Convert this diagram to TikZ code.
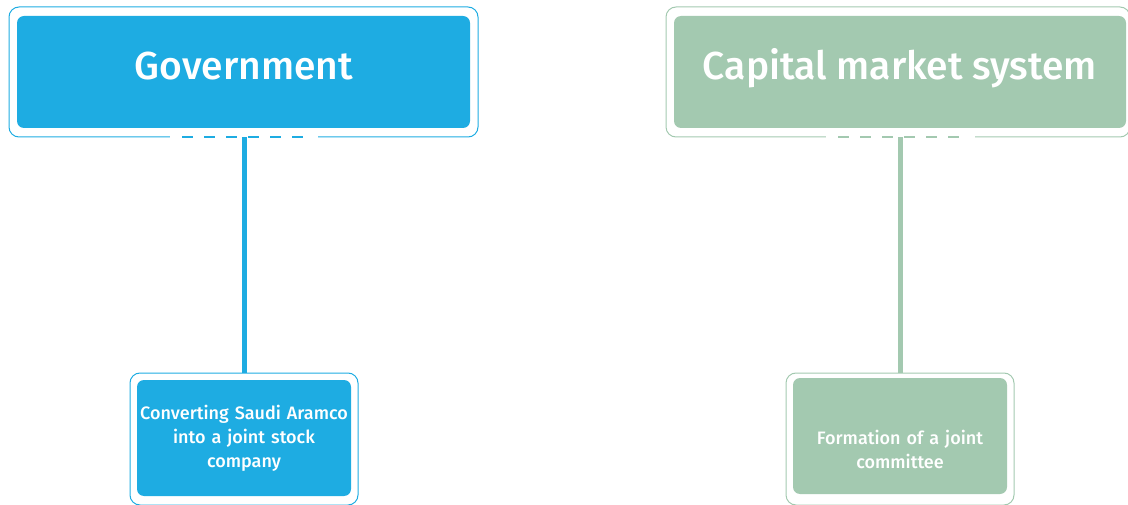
\documentclass[tikz,border=0pt]{standalone}
\usepackage{fontspec}
\setmainfont{Fira Sans}[BoldFont={Fira Sans Medium}]
\definecolor{govblue}{HTML}{1EACE2}
\definecolor{capgreen}{HTML}{A3C9B0}
\begin{document}
\begin{tikzpicture}[x=1pt,y=-1pt,
  innerbox/.style={rounded corners=7pt, minimum width=#1, inner sep=0pt, text=white, align=center},
  outerbox/.style={draw, rounded corners=10pt, inner sep=0pt, line width=1pt},
  headtext/.style={font=\fontsize{39}{44}\selectfont\bfseries},
  smalltext/.style={font=\fontsize{18}{24}\selectfont\bfseries},
  stem/.style={line width=5pt},
  gapline/.style={white, line width=3pt},
  dashline/.style={line width=2.5pt, dash pattern=on 11pt off 11pt}]
\useasboundingbox (0,0) rectangle (1128,505);
\begin{scope}
\clip (0,0) rectangle (1128,505);
% outer frames
\node[outerbox, draw=govblue, minimum width=469pt, minimum height=130pt] (govout) at (243.5,72) {};
\node[outerbox, draw=capgreen, minimum width=464pt, minimum height=130pt] (capout) at (898,72) {};
\node[outerbox, draw=govblue, minimum width=228pt, minimum height=132pt] (aout) at (244,439) {};
\node[outerbox, draw=capgreen, minimum width=228pt, minimum height=132pt] (fout) at (900,439) {};
% inner boxes
\node[innerbox=453pt, fill=govblue, minimum height=112pt] (gov) at (243.5,72) {};
\node[headtext, text=white, anchor=base] (govt) at (244,80) {Government};
\node[innerbox=452pt, fill=capgreen, minimum height=112pt] (cap) at (900,72) {};
\node[headtext, text=white, anchor=base] (capt) at (900,80) {Capital market system};
\node[innerbox=214pt, fill=govblue, minimum height=116pt, smalltext, text width=214pt] (aramco) at (244,438) {Converting Saudi Aramco\\into a joint stock\\company};
\node[innerbox=214pt, fill=capgreen, minimum height=116pt, smalltext, text width=214pt] (form) at (900,436) {\strut\\Formation of a joint\\committee};
% gaps and dashes
\coordinate (g1) at (170,137); \coordinate (g2) at (318,137);
\coordinate (d1) at (182,137); \coordinate (d2) at (305,137);
\draw[gapline] (g1) -- (g2);
\draw[dashline, govblue] (d1) -- (d2);
\coordinate (h1) at (826,137); \coordinate (h2) at (975,137);
\coordinate (e1) at (838,137); \coordinate (e2) at (962,137);
\draw[gapline] (h1) -- (h2);
\draw[dashline, capgreen] (e1) -- (e2);
% stems
\draw[stem, govblue] (govout.south -| aout.north) -- (aout.north);
\draw[stem, capgreen] (capout.south -| fout.north) -- (fout.north);
\end{scope}
\end{tikzpicture}
\end{document}
